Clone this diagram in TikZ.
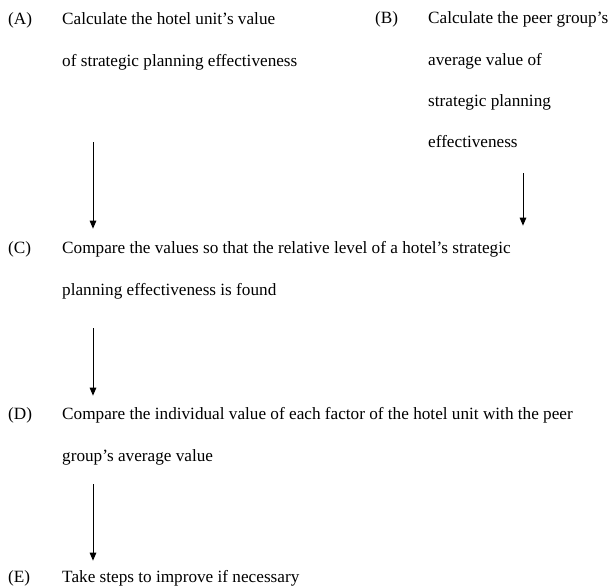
\documentclass[tikz,border=0pt]{standalone}
\usepackage{fontspec}
\setmainfont{Liberation Serif}
\usetikzlibrary{arrows.meta}

\tikzset{
  steplabel/.style={anchor=base west, inner sep=0pt},
  steptext/.style={anchor=base west, inner sep=0pt},
  flow/.style={-{Triangle[length=8pt,width=6.5pt]}, line width=1pt}
}
\newcommand{\lines}[1]{\parbox[t]{540pt}{\raggedright\baselineskip=41.5pt #1}}

\begin{document}
\begin{tikzpicture}[x=1pt, y=-1pt, font=\fontsize{17.2}{20}\selectfont]
\useasboundingbox (0,0) rectangle (614,588);

%Vaiheet
\node[steplabel] (la) at (8,25) {(A)};
\node[steptext] (a) at (62,25) {\lines{Calculate the hotel unit’s value\\of strategic planning effectiveness}};

\node[steplabel] (lb) at (375,24) {(B)};
\node[steptext] (b) at (428,24) {\parbox[t]{200pt}{\raggedright\baselineskip=41.3pt Calculate the peer group’s\\average value of\\strategic planning\\effectiveness}};

\node[steplabel] (lc) at (8,254) {(C)};
\node[steptext] (c) at (62,254) {\lines{Compare the values so that the relative level of a hotel’s strategic\\planning effectiveness is found}};

\node[steplabel] (ld) at (8,420) {(D)};
\node[steptext] (d) at (62,420) {\lines{Compare the individual value of each factor of the hotel unit with the peer\\group’s average value}};

\node[steplabel] (le) at (8,582) {(E)};
\node[steptext] (e) at (62,582) {Take steps to improve if necessary};

%Nuolet
\coordinate (ax) at (93,0);
\coordinate (bx) at (523,0);
\draw[flow, shorten >=13pt] (a.south -| ax) ++(0,72) coordinate (a0) -- (c.north -| ax);
\draw[flow, shorten >=16pt] (b.south -| bx) ++(0,25) coordinate (b0) -- (c.north -| bx);
\draw[flow, shorten >=12pt] (c.south -| ax) ++(0,29) coordinate (c0) -- (d.north -| ax);
\draw[flow, shorten >=9pt] (d.south -| ax) ++(0,19) coordinate (d0) -- (e.north -| ax);

\end{tikzpicture}
\end{document}
